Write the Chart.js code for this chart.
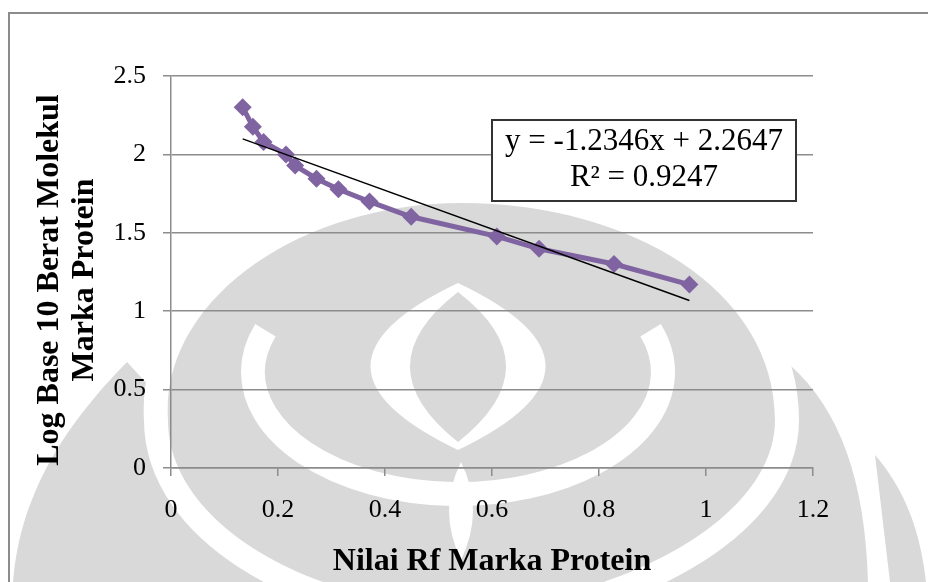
<!DOCTYPE html>
<html>
<head>
<meta charset="utf-8">
<script src="https://cdn.jsdelivr.net/npm/chart.js@4.4.1/dist/chart.umd.min.js"></script>
<style>
  html, body { margin: 0; padding: 0; background: #fff; }
  #wrap { width: 928px; height: 582px; }
</style>
</head>
<body>
<div id="wrap"><canvas id="myChart" width="928" height="582"></canvas></div>
<script>
// Rf of each marker band and log10 of its molecular weight
const rfValues = [0.134, 0.153, 0.173, 0.215, 0.232, 0.272, 0.313, 0.371, 0.449, 0.609, 0.688, 0.828, 0.969];
const logMw = [2.301, 2.176, 2.079, 2.0, 1.929, 1.845, 1.778, 1.699, 1.602, 1.477, 1.398, 1.301, 1.17];

// Excel linear trendline
const trendSlope = -1.2346;
const trendIntercept = 2.2647;
const trendR2 = 0.9247;

const xTicks = [0, 0.2, 0.4, 0.6, 0.8, 1, 1.2];
const yTicks = [0, 0.5, 1, 1.5, 2, 2.5];
const xTitle = "Nilai Rf Marka Protein";
const yTitle = ["Log Base 10 Berat Molekul", "Marka Protein"];

const serif = "'Liberation Serif', 'Times New Roman', serif";
const grey = "#d9d9d9";

var points = rfValues.map(function (x, i) {
  return { x: x, y: logMw[i] };
});
var xMin = Math.min.apply(null, rfValues);
var xMax = Math.max.apply(null, rfValues);
var trend = [xMin, xMax].map(function (x) {
  return { x: x, y: trendSlope * x + trendIntercept };
});

// faint logo behind the chart (scanned page watermark)
function drawWatermark(ctx) {
  ctx.save();
  ctx.fillStyle = grey;
  // left petal
  ctx.beginPath();
  ctx.moveTo(127, 362);
  ctx.bezierCurveTo(70, 420, 20, 490, 13, 582);
  ctx.lineTo(330, 582);
  ctx.closePath();
  ctx.fill();
  // right petal
  ctx.beginPath();
  ctx.moveTo(790, 365);
  ctx.bezierCurveTo(840, 410, 865, 480, 868, 582);
  ctx.lineTo(600, 582);
  ctx.closePath();
  ctx.fill();
  ctx.beginPath();
  ctx.moveTo(875, 455);
  ctx.bezierCurveTo(905, 490, 920, 530, 926, 582);
  ctx.lineTo(890, 582);
  ctx.closePath();
  ctx.fill();

  // dome with white band round it
  ctx.beginPath();
  ctx.moveTo(168, 420);
  ctx.bezierCurveTo(160, 300, 300, 203, 462, 203);
  ctx.bezierCurveTo(630, 203, 775, 290, 775, 420);
  ctx.bezierCurveTo(775, 520, 620, 600, 462, 610);
  ctx.bezierCurveTo(300, 600, 168, 520, 168, 420);
  ctx.closePath();
  ctx.strokeStyle = "#fff";
  ctx.lineWidth = 48;
  ctx.stroke();
  ctx.fill();

  // inner ring, open at the top
  ctx.beginPath();
  ctx.ellipse(458, 372, 205, 122, 0, -0.35, Math.PI + 0.35);
  ctx.lineWidth = 24;
  ctx.stroke();

  // central lens
  ctx.fillStyle = "#fff";
  ctx.beginPath();
  ctx.moveTo(458, 283);
  ctx.quadraticCurveTo(283, 366, 458, 450);
  ctx.quadraticCurveTo(633, 366, 458, 283);
  ctx.fill();
  ctx.fillStyle = grey;
  ctx.beginPath();
  ctx.moveTo(458, 292);
  ctx.quadraticCurveTo(362, 366, 458, 442);
  ctx.quadraticCurveTo(554, 366, 458, 292);
  ctx.fill();

  // stem
  ctx.fillStyle = "#fff";
  ctx.beginPath();
  ctx.moveTo(461, 462);
  ctx.quadraticCurveTo(437, 510, 461, 560);
  ctx.quadraticCurveTo(485, 510, 461, 462);
  ctx.fill();
  ctx.restore();
}

const pagePlugin = {
  id: "page",
  beforeDraw: function (chart) {
    var ctx = chart.ctx;
    ctx.save();
    ctx.fillStyle = "#fff";
    ctx.fillRect(0, 0, chart.width, chart.height);
    ctx.restore();
    drawWatermark(ctx);
  },
  afterDraw: function (chart) {
    var ctx = chart.ctx;
    var area = chart.chartArea;
    ctx.save();
    // chart frame
    ctx.strokeStyle = "#8c8c8c";
    ctx.lineWidth = 2;
    ctx.beginPath();
    ctx.moveTo(9, 590);
    ctx.lineTo(9, 13);
    ctx.lineTo(940, 13);
    ctx.stroke();

    // y axis title, two lines
    ctx.save();
    ctx.translate(50, (area.top + area.bottom) / 2 + 8);
    ctx.rotate(-Math.PI / 2);
    ctx.fillStyle = "#000";
    ctx.font = "bold 32px " + serif;
    ctx.textAlign = "center";
    ctx.textBaseline = "middle";
    yTitle.forEach(function (line, i) {
      ctx.fillText(line, 0, i * 35);
    });
    ctx.restore();

    // trendline label
    ctx.fillStyle = "#fff";
    ctx.fillRect(492, 120, 304, 81);
    ctx.strokeStyle = "#333";
    ctx.lineWidth = 2;
    ctx.strokeRect(492, 120, 304, 81);
    ctx.fillStyle = "#000";
    ctx.font = "31px " + serif;
    ctx.textAlign = "center";
    ctx.textBaseline = "middle";
    ctx.fillText("y = " + trendSlope + "x + " + trendIntercept, 644, 142);
    ctx.fillText("R\u00b2 = " + trendR2, 644, 178);
    ctx.restore();
  },
};

function plainLabel(value) {
  return String(value);
}

var ctx = document.getElementById("myChart").getContext("2d");
var myChart = new Chart(ctx, {
  type: "scatter",
  data: {
    datasets: [
      {
        label: "Linear",
        data: trend,
        showLine: true,
        borderColor: "#000",
        borderWidth: 1.5,
        pointRadius: 0,
      },
      {
        label: "Marka",
        data: points,
        showLine: true,
        borderColor: "#8064a2",
        backgroundColor: "#8064a2",
        borderWidth: 5,
        pointStyle: "rectRot",
        pointRadius: 9,
        pointBorderWidth: 0,
      },
    ],
  },
  options: {
    responsive: false,
    animation: false,
    devicePixelRatio: 1,
    layout: { padding: { top: 76, right: 115, left: 0, bottom: 0 } },
    plugins: { legend: { display: false }, tooltip: { enabled: false } },
    scales: {
      x: {
        type: "linear",
        min: 0,
        max: 1.2,
        afterBuildTicks: function (scale) {
          scale.ticks = xTicks.map(function (v) { return { value: v }; });
        },
        afterFit: function (scale) { scale.height = 114; },
        grid: { drawOnChartArea: false, drawTicks: true, tickLength: 8, color: "#8c8c8c", lineWidth: 1.5 },
        border: { color: "#8c8c8c", width: 1.5 },
        ticks: { color: "#000", font: { family: serif, size: 26 }, padding: 19, maxRotation: 0, callback: plainLabel },
        title: {
          display: true,
          text: xTitle,
          color: "#000",
          font: { family: serif, size: 32, weight: "bold", lineHeight: 1.1 },
          padding: { top: 0, bottom: 3 },
        },
      },
      y: {
        min: 0,
        max: 2.5,
        afterBuildTicks: function (scale) {
          scale.ticks = yTicks.map(function (v) { return { value: v }; });
        },
        afterFit: function (scale) { scale.width = 171; },
        grid: { drawTicks: true, tickLength: 8, color: "#8c8c8c", lineWidth: 1.5 },
        border: { color: "#8c8c8c", width: 1.5 },
        ticks: { color: "#000", font: { family: serif, size: 26 }, padding: 17, callback: plainLabel },
        title: { display: false },
      },
    },
  },
  plugins: [pagePlugin],
});
</script>
</body>
</html>
